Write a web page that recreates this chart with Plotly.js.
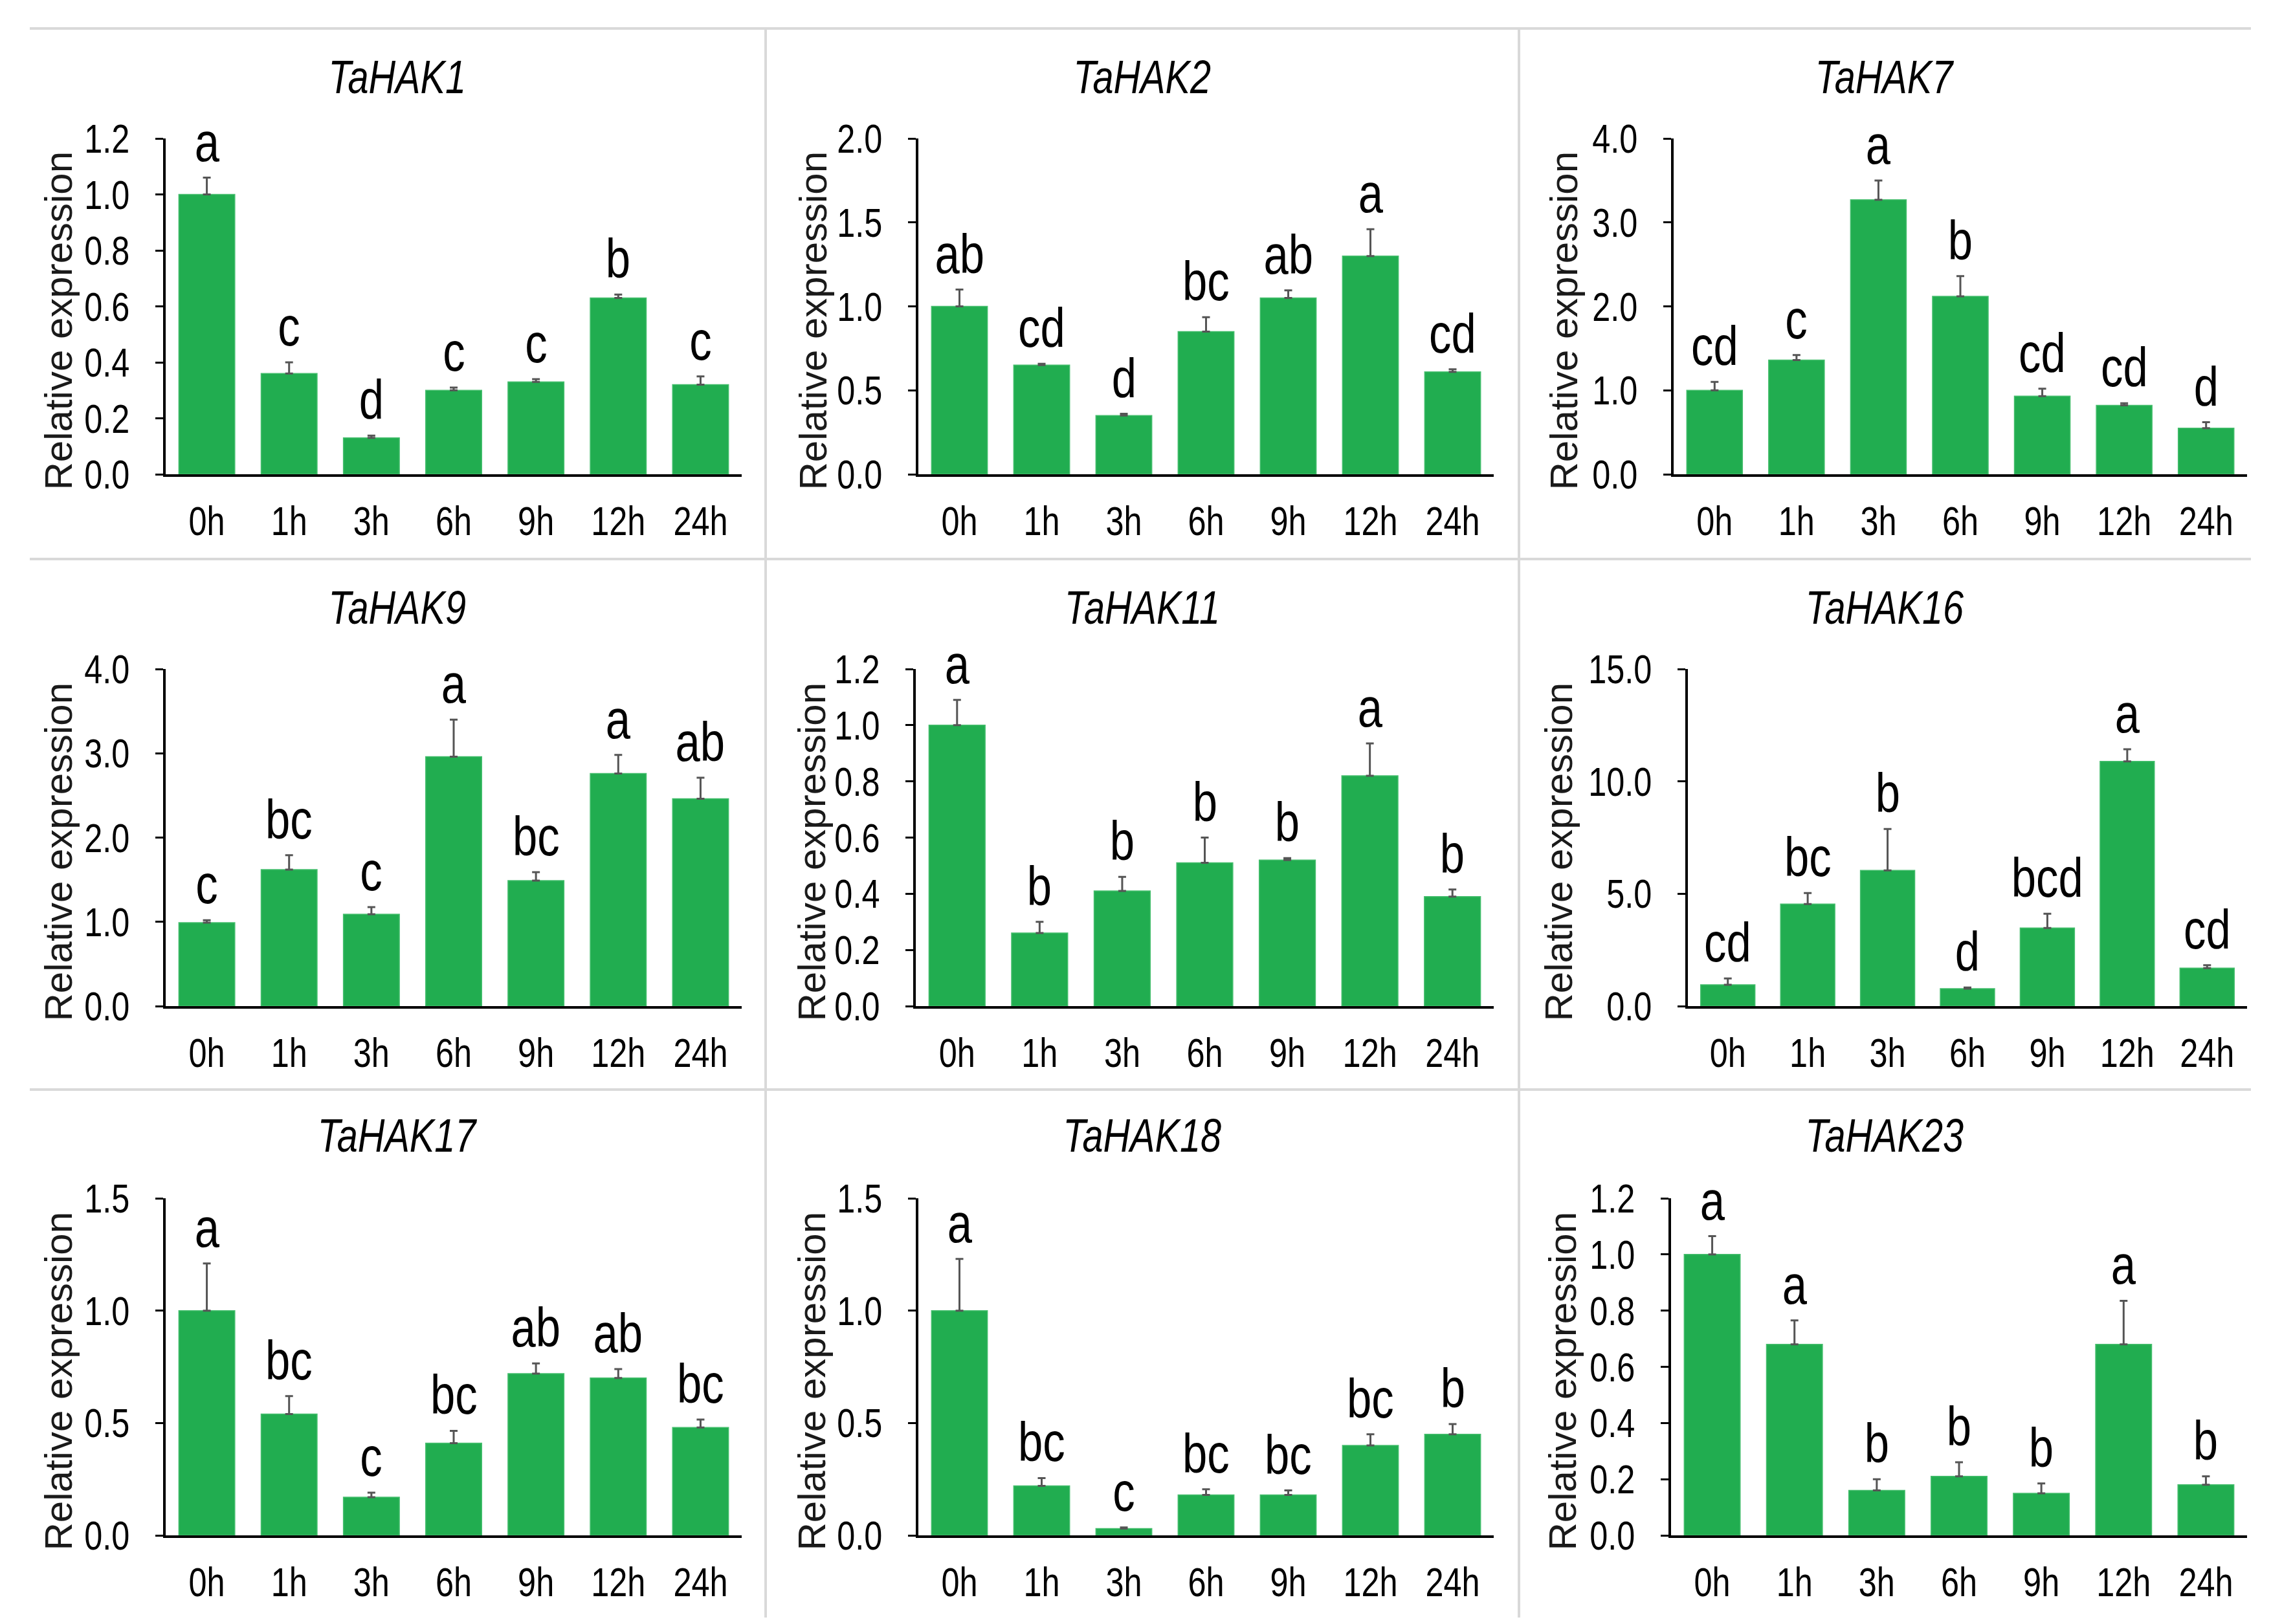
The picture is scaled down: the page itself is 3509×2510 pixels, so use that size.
<!DOCTYPE html>
<html>
<head>
<meta charset="utf-8">
<script src="https://cdn.plot.ly/plotly-3.0.1.min.js"></script>
<style>html,body{margin:0;padding:0;background:#fff}</style>
</head>
<body>
<div id="chart" style="width:3509px;height:2510px"></div>
<script>
// 9-panel qRT-PCR time course, TaHAK genes. values.
const TIMES = ['0h', '1h', '3h', '6h', '9h', '12h', '24h'];
const GENES = ['TaHAK1', 'TaHAK2', 'TaHAK7', 'TaHAK9', 'TaHAK11', 'TaHAK16', 'TaHAK17', 'TaHAK18', 'TaHAK23'];

const HAK1_MEAN = [1.00, 0.36, 0.13, 0.30, 0.33, 0.63, 0.32];
const HAK1_ERR = [0.06, 0.04, 0.008, 0.01, 0.01, 0.012, 0.03];
const HAK1_SIG = ['a', 'c', 'd', 'c', 'c', 'b', 'c'];

const HAK2_MEAN = [1.00, 0.65, 0.35, 0.85, 1.05, 1.30, 0.61];
const HAK2_ERR = [0.10, 0.008, 0.01, 0.085, 0.045, 0.16, 0.015];
const HAK2_SIG = ['ab', 'cd', 'd', 'bc', 'ab', 'a', 'cd'];

const HAK7_MEAN = [1.00, 1.36, 3.27, 2.12, 0.93, 0.82, 0.55];
const HAK7_ERR = [0.10, 0.06, 0.23, 0.24, 0.09, 0.025, 0.07];
const HAK7_SIG = ['cd', 'c', 'a', 'b', 'cd', 'cd', 'd'];

const HAK9_MEAN = [0.99, 1.62, 1.09, 2.96, 1.49, 2.76, 2.46];
const HAK9_ERR = [0.03, 0.17, 0.085, 0.44, 0.10, 0.22, 0.25];
const HAK9_SIG = ['c', 'bc', 'c', 'a', 'bc', 'a', 'ab'];

const HAK11_MEAN = [1.00, 0.26, 0.41, 0.51, 0.52, 0.82, 0.39];
const HAK11_ERR = [0.09, 0.04, 0.05, 0.09, 0.007, 0.115, 0.025];
const HAK11_SIG = ['a', 'b', 'b', 'b', 'b', 'a', 'b'];

const HAK16_MEAN = [0.95, 4.54, 6.04, 0.78, 3.48, 10.89, 1.69];
const HAK16_ERR = [0.28, 0.49, 1.84, 0.05, 0.63, 0.54, 0.13];
const HAK16_SIG = ['cd', 'bc', 'b', 'd', 'bcd', 'a', 'cd'];

const HAK17_MEAN = [1.00, 0.54, 0.17, 0.41, 0.72, 0.70, 0.48];
const HAK17_ERR = [0.21, 0.08, 0.02, 0.055, 0.045, 0.04, 0.035];
const HAK17_SIG = ['a', 'bc', 'c', 'bc', 'ab', 'ab', 'bc'];

const HAK18_MEAN = [1.00, 0.22, 0.03, 0.18, 0.18, 0.40, 0.45];
const HAK18_ERR = [0.23, 0.035, 0.005, 0.025, 0.02, 0.05, 0.045];
const HAK18_SIG = ['a', 'bc', 'c', 'bc', 'bc', 'bc', 'b'];

const HAK23_MEAN = [1.00, 0.68, 0.16, 0.21, 0.15, 0.68, 0.18];
const HAK23_ERR = [0.065, 0.085, 0.04, 0.05, 0.035, 0.155, 0.03];
const HAK23_SIG = ['a', 'a', 'b', 'b', 'b', 'a', 'b'];

const Y_MAX = [1.2, 2.0, 4.0, 4.0, 1.2, 15.0, 1.5, 1.5, 1.2];
const Y_STEP = [0.2, 0.5, 1.0, 1.0, 0.2, 5.0, 0.5, 0.5, 0.2];

const MEANS = [HAK1_MEAN, HAK2_MEAN, HAK7_MEAN, HAK9_MEAN, HAK11_MEAN, HAK16_MEAN, HAK17_MEAN, HAK18_MEAN, HAK23_MEAN];
const ERRS = [HAK1_ERR, HAK2_ERR, HAK7_ERR, HAK9_ERR, HAK11_ERR, HAK16_ERR, HAK17_ERR, HAK18_ERR, HAK23_ERR];
const SIGS = [HAK1_SIG, HAK2_SIG, HAK7_SIG, HAK9_SIG, HAK11_SIG, HAK16_SIG, HAK17_SIG, HAK18_SIG, HAK23_SIG];

// page geometry (px of the 3509x2510 figure)
const W = 3509, H = 2510;
const LEFT = [256, 1419, 2586, 256, 1415, 2608, 256, 1419, 2582];
const RIGHT = [1146, 2308, 3472];
const TOP = [214, 1034, 1852];
const BOTTOM = [733, 1555, 2373];
const TITLE_X = [614, 1765, 2912];
const TITLE_Y = [119, 939, 1755];
const YLAB_X = [90, 1256, 2416, 90, 1254, 2408, 90, 1254, 2414];

const GREEN = '#21ad50';
// the figure uses a condensed face; no narrow font is installed, so those texts get squeezed after drawing
const NARROW = '"Liberation Sans Narrow", "Liberation Sans", Arial, sans-serif';
const SANS = 'Arial, "Liberation Sans", sans-serif';
const SQUEEZE = 0.8;

const px = (x) => x / W;
const py = (y) => 1 - y / H;

const traces = [];
const annotations = [];
const layout = {
  width: W, height: H,
  margin: { l: 0, r: 0, t: 0, b: 0 },
  paper_bgcolor: '#fff', plot_bgcolor: '#fff',
  showlegend: false,
  bargap: 0.32,
  font: { family: NARROW, color: '#000' },
};

for (let i = 0; i < 9; i++) {
  const n = i === 0 ? '' : String(i + 1);
  const col = i % 3, row = Math.floor(i / 3);
  traces.push({
    type: 'bar', x: TIMES, y: MEANS[i], xaxis: 'x' + n, yaxis: 'y' + n,
    marker: { color: GREEN, line: { color: '#45be6d', width: 1.5 } },
    error_y: { type: 'data', symmetric: false, array: ERRS[i], arrayminus: ERRS[i].map(() => 0), color: '#555', thickness: 3, width: 6 },
    hoverinfo: 'skip',
  });

  const ticks = [];
  for (let v = 0; v <= Y_MAX[i] + 1e-9; v += Y_STEP[i]) ticks.push(+v.toFixed(4));

  layout['xaxis' + n] = {
    domain: [px(LEFT[i]), px(RIGHT[col])], anchor: 'y' + n,
    type: 'category', range: [-0.5, 6.5],
    showline: true, linecolor: '#000', linewidth: 4, ticks: '',
    showgrid: false, zeroline: false, fixedrange: true,
    tickfont: { family: NARROW, size: 63, color: '#000' }, ticklabelstandoff: 14,
  };
  layout['yaxis' + n] = {
    domain: [py(BOTTOM[row]), py(TOP[row])], anchor: 'x' + n,
    range: [0, Y_MAX[i]], tickmode: 'array', tickvals: ticks, ticktext: ticks.map((v) => v.toFixed(1)),
    showline: true, linecolor: '#000', linewidth: 4,
    ticks: 'outside', ticklen: 12, tickwidth: 3, tickcolor: '#000',
    showgrid: false, zeroline: false, fixedrange: true,
    tickfont: { family: NARROW, size: 63, color: '#000' }, ticklabelstandoff: 27,
  };

  // significance letters sit on top of each error bar
  MEANS[i].forEach((m, j) => {
    annotations.push({
      xref: 'x' + n, yref: 'y' + n, x: TIMES[j], y: m + ERRS[i][j],
      text: SIGS[i][j], showarrow: false, yanchor: 'bottom', yshift: 6,
      font: { family: NARROW, size: 86, color: '#000' },
    });
  });

  annotations.push({
    xref: 'paper', yref: 'paper', x: px(TITLE_X[col]), y: py(TITLE_Y[row]),
    text: '<i>' + GENES[i] + '</i>', showarrow: false, xanchor: 'center', yanchor: 'middle',
    font: { family: NARROW, size: 72, color: '#000' },
  });

  // y-axis label, placed at the same spot in every panel like the original
  annotations.push({
    xref: 'paper', yref: 'paper', x: px(YLAB_X[i]), y: py((TOP[row] + BOTTOM[row]) / 2 + 22),
    text: 'Relative expression', textangle: -90, showarrow: false, xanchor: 'center', yanchor: 'middle',
    font: { family: SANS, size: 60, color: '#1a1a1a' },
  });
}

// light grey frame between panels
const GRID = { color: '#d9d9d9', width: 4 };
const hLine = (y) => ({ type: 'line', xref: 'paper', yref: 'paper', x0: px(46), x1: px(3478), y0: py(y), y1: py(y), line: GRID });
const vLine = (x) => ({ type: 'line', xref: 'paper', yref: 'paper', x0: px(x), x1: px(x), y0: py(44), y1: py(2500), line: GRID });
layout.shapes = [hLine(44), hLine(864), hLine(1684), vLine(1183), vLine(2347)];
layout.annotations = annotations;

// narrow every text drawn with the NARROW stack horizontally, keeping its anchor point fixed
function squeezeText(gd, k) {
  gd.querySelectorAll('text').forEach((t) => {
    if (!/Narrow/.test(t.style.fontFamily || '')) return;
    const b = t.getBBox();
    const anchor = t.getAttribute('text-anchor') || t.style.textAnchor;
    const ax = anchor === 'end' ? b.x + b.width : anchor === 'start' ? b.x : b.x + b.width / 2;
    const prev = t.getAttribute('transform') || '';
    t.setAttribute('transform', `${prev} translate(${ax},0) scale(${k},1) translate(${-ax},0)`.trim());
  });
}

const gd = document.getElementById('chart');
Plotly.newPlot(gd, traces, layout, { displayModeBar: false, staticPlot: true })
  .then(() => squeezeText(gd, SQUEEZE));
</script>
</body>
</html>
